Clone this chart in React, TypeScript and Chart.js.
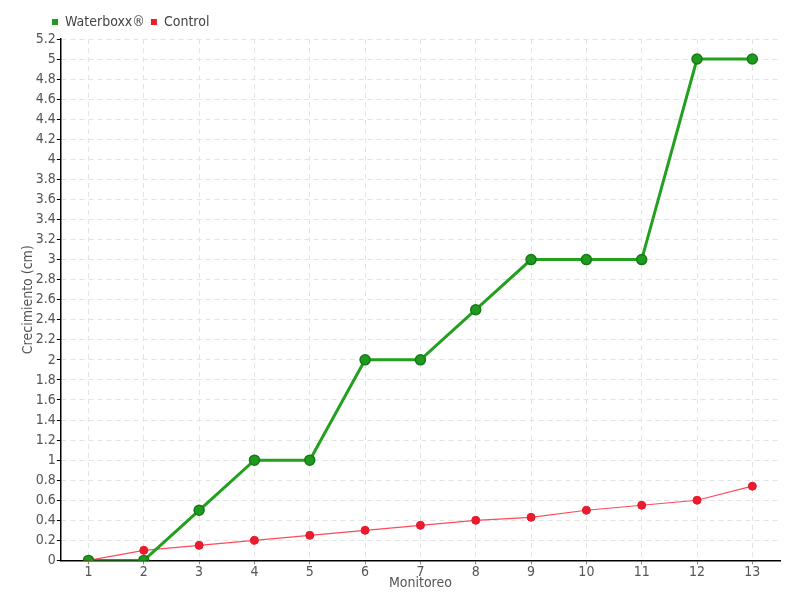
import React, { useEffect, useRef } from "react";
import { Chart, registerables } from "chart.js";

Chart.register(...registerables);

const categories = ["1", "2", "3", "4", "5", "6", "7", "8", "9", "10", "11", "12", "13"];
const waterboxx = [0, 0, 0.5, 1, 1, 2, 2, 2.5, 3, 3, 3, 5, 5];
const control = [0, 0.1, 0.15, 0.2, 0.25, 0.3, 0.35, 0.4, 0.43, 0.5, 0.55, 0.6, 0.74];

const FONT = "'DejaVu Sans Condensed', 'Liberation Sans Narrow', 'Noto Sans', sans-serif";

const shiftLegend = {
  id: "shiftLegend",
  afterLayout(chart: any) {
    if (chart.legend) chart.legend.left += 26;
  },
};

export default function App() {
  const ref = useRef<HTMLCanvasElement>(null);
  useEffect(() => {
    const chart = new Chart(ref.current!, {
      type: "line",
      data: {
        labels: categories,
        datasets: [
          {
            label: "Waterboxx®",
            data: waterboxx,
            borderColor: "#22a01e",
            backgroundColor: "#1f9a1f",
            pointBorderColor: "#167a16",
            pointBorderWidth: 1.5,
            borderWidth: 3,
            pointRadius: 5,
            tension: 0,
          },
          {
            label: "Control",
            data: control,
            borderColor: "#ff4a5a",
            backgroundColor: "#ec1c2e",
            pointBorderColor: "#e01a2a",
            pointBorderWidth: 1,
            borderWidth: 1.2,
            pointRadius: 4,
            tension: 0,
          },
        ],
      },
      plugins: [shiftLegend],
      options: {
        animation: false,
        responsive: false,
        maintainAspectRatio: false,
        layout: { padding: { left: 20, right: 20, top: 9, bottom: 8 } },
        plugins: {
          legend: {
            align: "start",
            labels: {
              boxWidth: 6,
              boxHeight: 6,
              padding: 6,
              color: "#444",
              font: { family: FONT, size: 14 },
              generateLabels: (c: any) =>
                c.data.datasets.map((d: any, i: number) => ({
                  text: d.label,
                  fillStyle: d.backgroundColor,
                  strokeStyle: d.backgroundColor,
                  lineWidth: 0,
                  fontColor: "#444",
                  datasetIndex: i,
                  hidden: false,
                })),
            },
          },
          tooltip: { enabled: false },
        },
        scales: {
          x: {
            offset: true,
            grid: {
              offset: false,
              color: "#e4e4e4",
              tickColor: "#888",
              tickLength: 4,
            },
            border: { color: "#000", width: 1.5, dash: [5, 4] },
            ticks: { color: "#555", font: { family: FONT, size: 14 }, padding: 0 },
            title: {
              display: true,
              text: "Monitoreo",
              color: "#555",
              font: { family: FONT, size: 14 },
              padding: { top: -6, bottom: 0 },
            },
          },
          y: {
            min: 0,
            max: 5.2,
            ticks: {
              stepSize: 0.2,
              color: "#555",
              font: { family: FONT, size: 14 },
              padding: 1,
              callback: (v: any) => String(Number(Number(v).toFixed(1))),
            },
            grid: { color: "#e4e4e4", tickColor: "#000", tickLength: 4 },
            border: { color: "#000", width: 1.5, dash: [5, 4] },
            title: {
              display: true,
              text: "Crecimiento (cm)",
              color: "#555",
              font: { family: FONT, size: 14 },
              padding: { top: 0, bottom: -2 },
            },
          },
        },
      },
    });
    return () => chart.destroy();
  }, []);
  return (
    <div style={{ position: "fixed", left: 0, top: 0, width: 800, height: 600, background: "#fff" }}>
      <canvas ref={ref} width={800} height={600} />
    </div>
  );
}
